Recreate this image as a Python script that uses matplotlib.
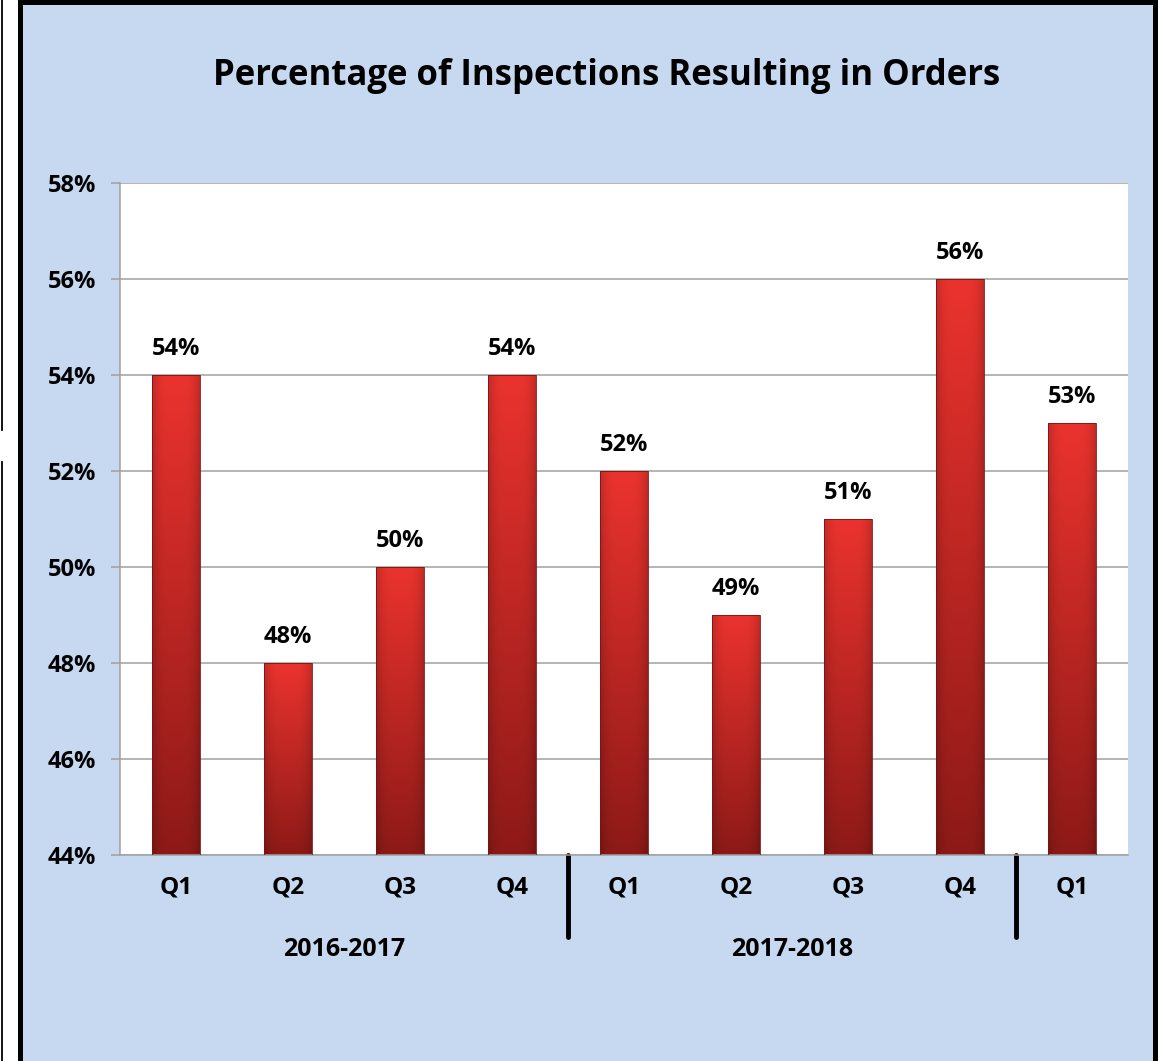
import numpy as np
import matplotlib
matplotlib.use("Agg")
import matplotlib.pyplot as plt
import matplotlib.transforms as mtransforms
from matplotlib.patches import Rectangle
from matplotlib.lines import Line2D

plt.rcParams['font.family'] = ['Open Sans', 'DejaVu Sans']
plt.rcParams['font.weight'] = 'bold'

# data
quarters = ['Q1', 'Q2', 'Q3', 'Q4', 'Q1', 'Q2', 'Q3', 'Q4', 'Q1']
values = [54, 48, 50, 54, 52, 49, 51, 56, 53]
years = ['2016-2017', '2017-2018']
year_pos = [1.5, 5.5]
dividers = [3.5, 7.5]
yticks = [44, 46, 48, 50, 52, 54, 56, 58]

W, H = 1158, 1061
fig = plt.figure(figsize=(W / 100, H / 100), dpi=100)
fig.patch.set_facecolor('white')

# blue panel with black frame
panel = Rectangle((19.5 / W, -0.01), (1155 - 19.5) / W, 1.01 - 2.5 / H,
                  transform=fig.transFigure, facecolor='#c6d9f0',
                  edgecolor='black', linewidth=3.6, zorder=-5)
fig.patches.append(panel)
# thin line at far left edge
fig.lines.append(Line2D([1.5 / W, 1.5 / W], [1, 1 - 430 / H], transform=fig.transFigure,
                        color='black', lw=1.3, zorder=-4))
fig.lines.append(Line2D([1.5 / W, 1.5 / W], [1 - 462 / H, 0], transform=fig.transFigure,
                        color='black', lw=1.3, zorder=-4))

ax = fig.add_axes([120 / W, 1 - 855 / H, (1128 - 120) / W, (855 - 183) / H])
ax.set_facecolor('white')

x = np.arange(len(values))
bw = 0.42
bars = ax.bar(x, values, width=bw, color='none', edgecolor='#7a1414', linewidth=0.6, zorder=3)

# red vertical gradient with darker side edges
top = np.array([0.92, 0.20, 0.18])
bot = np.array([0.55, 0.10, 0.09])
t = np.linspace(0, 1, 200)[:, None, None]
u = np.linspace(-1, 1, 60)[None, :, None]
shade = 1 - 0.18 * np.abs(u) ** 4
grad = (top * (1 - t) + bot * t) * shade
grad = np.clip(grad, 0, 1)
for xi, v, b in zip(x, values, bars):
    im = ax.imshow(grad, extent=[xi - bw / 2, xi + bw / 2, 44, v], aspect='auto',
                   origin='upper', zorder=2, interpolation='bilinear')
    im.set_clip_path(b)
    ax.text(xi, v + 0.54, f'{v}%', ha='center', va='center', fontsize=17,
            fontweight='bold', color='black')

ax.set_xlim(-0.5, len(values) - 0.5)
ax.set_ylim(44, 58)
ax.set_yticks(yticks, [f'{t}%' for t in yticks])
ax.set_xticks(x, quarters)
for lab in ax.get_xticklabels() + ax.get_yticklabels():
    lab.set_fontweight('bold')
ax.yaxis.grid(True, color='#a0a0a0', linewidth=1.1)
ax.set_axisbelow(True)
for s in ['top', 'right']:
    ax.spines[s].set_visible(False)
for s in ['left', 'bottom']:
    ax.spines[s].set_color('#a0a0a0')
    ax.spines[s].set_linewidth(1.1)
ax.tick_params(axis='y', length=6.5, color='#a0a0a0', width=1.1, pad=11, labelsize=17)
ax.tick_params(axis='x', length=0, pad=15, labelsize=17.5)

trans = mtransforms.blended_transform_factory(ax.transData, ax.transAxes)
for d in dividers:
    ax.plot([d, d], [0, -82 / 672], transform=trans, color='black', lw=3.5,
            solid_capstyle='round', clip_on=False)
for p, yr in zip(year_pos, years):
    ax.text(p, -95 / 672, yr, transform=trans, ha='center', va='center',
            fontsize=18, fontweight='bold')

fig.text(607 / W, 1 - 76 / H, 'Percentage of Inspections Resulting in Orders',
         ha='center', va='center', fontsize=25, fontweight='bold')

fig.savefig('out.png', dpi=100)
